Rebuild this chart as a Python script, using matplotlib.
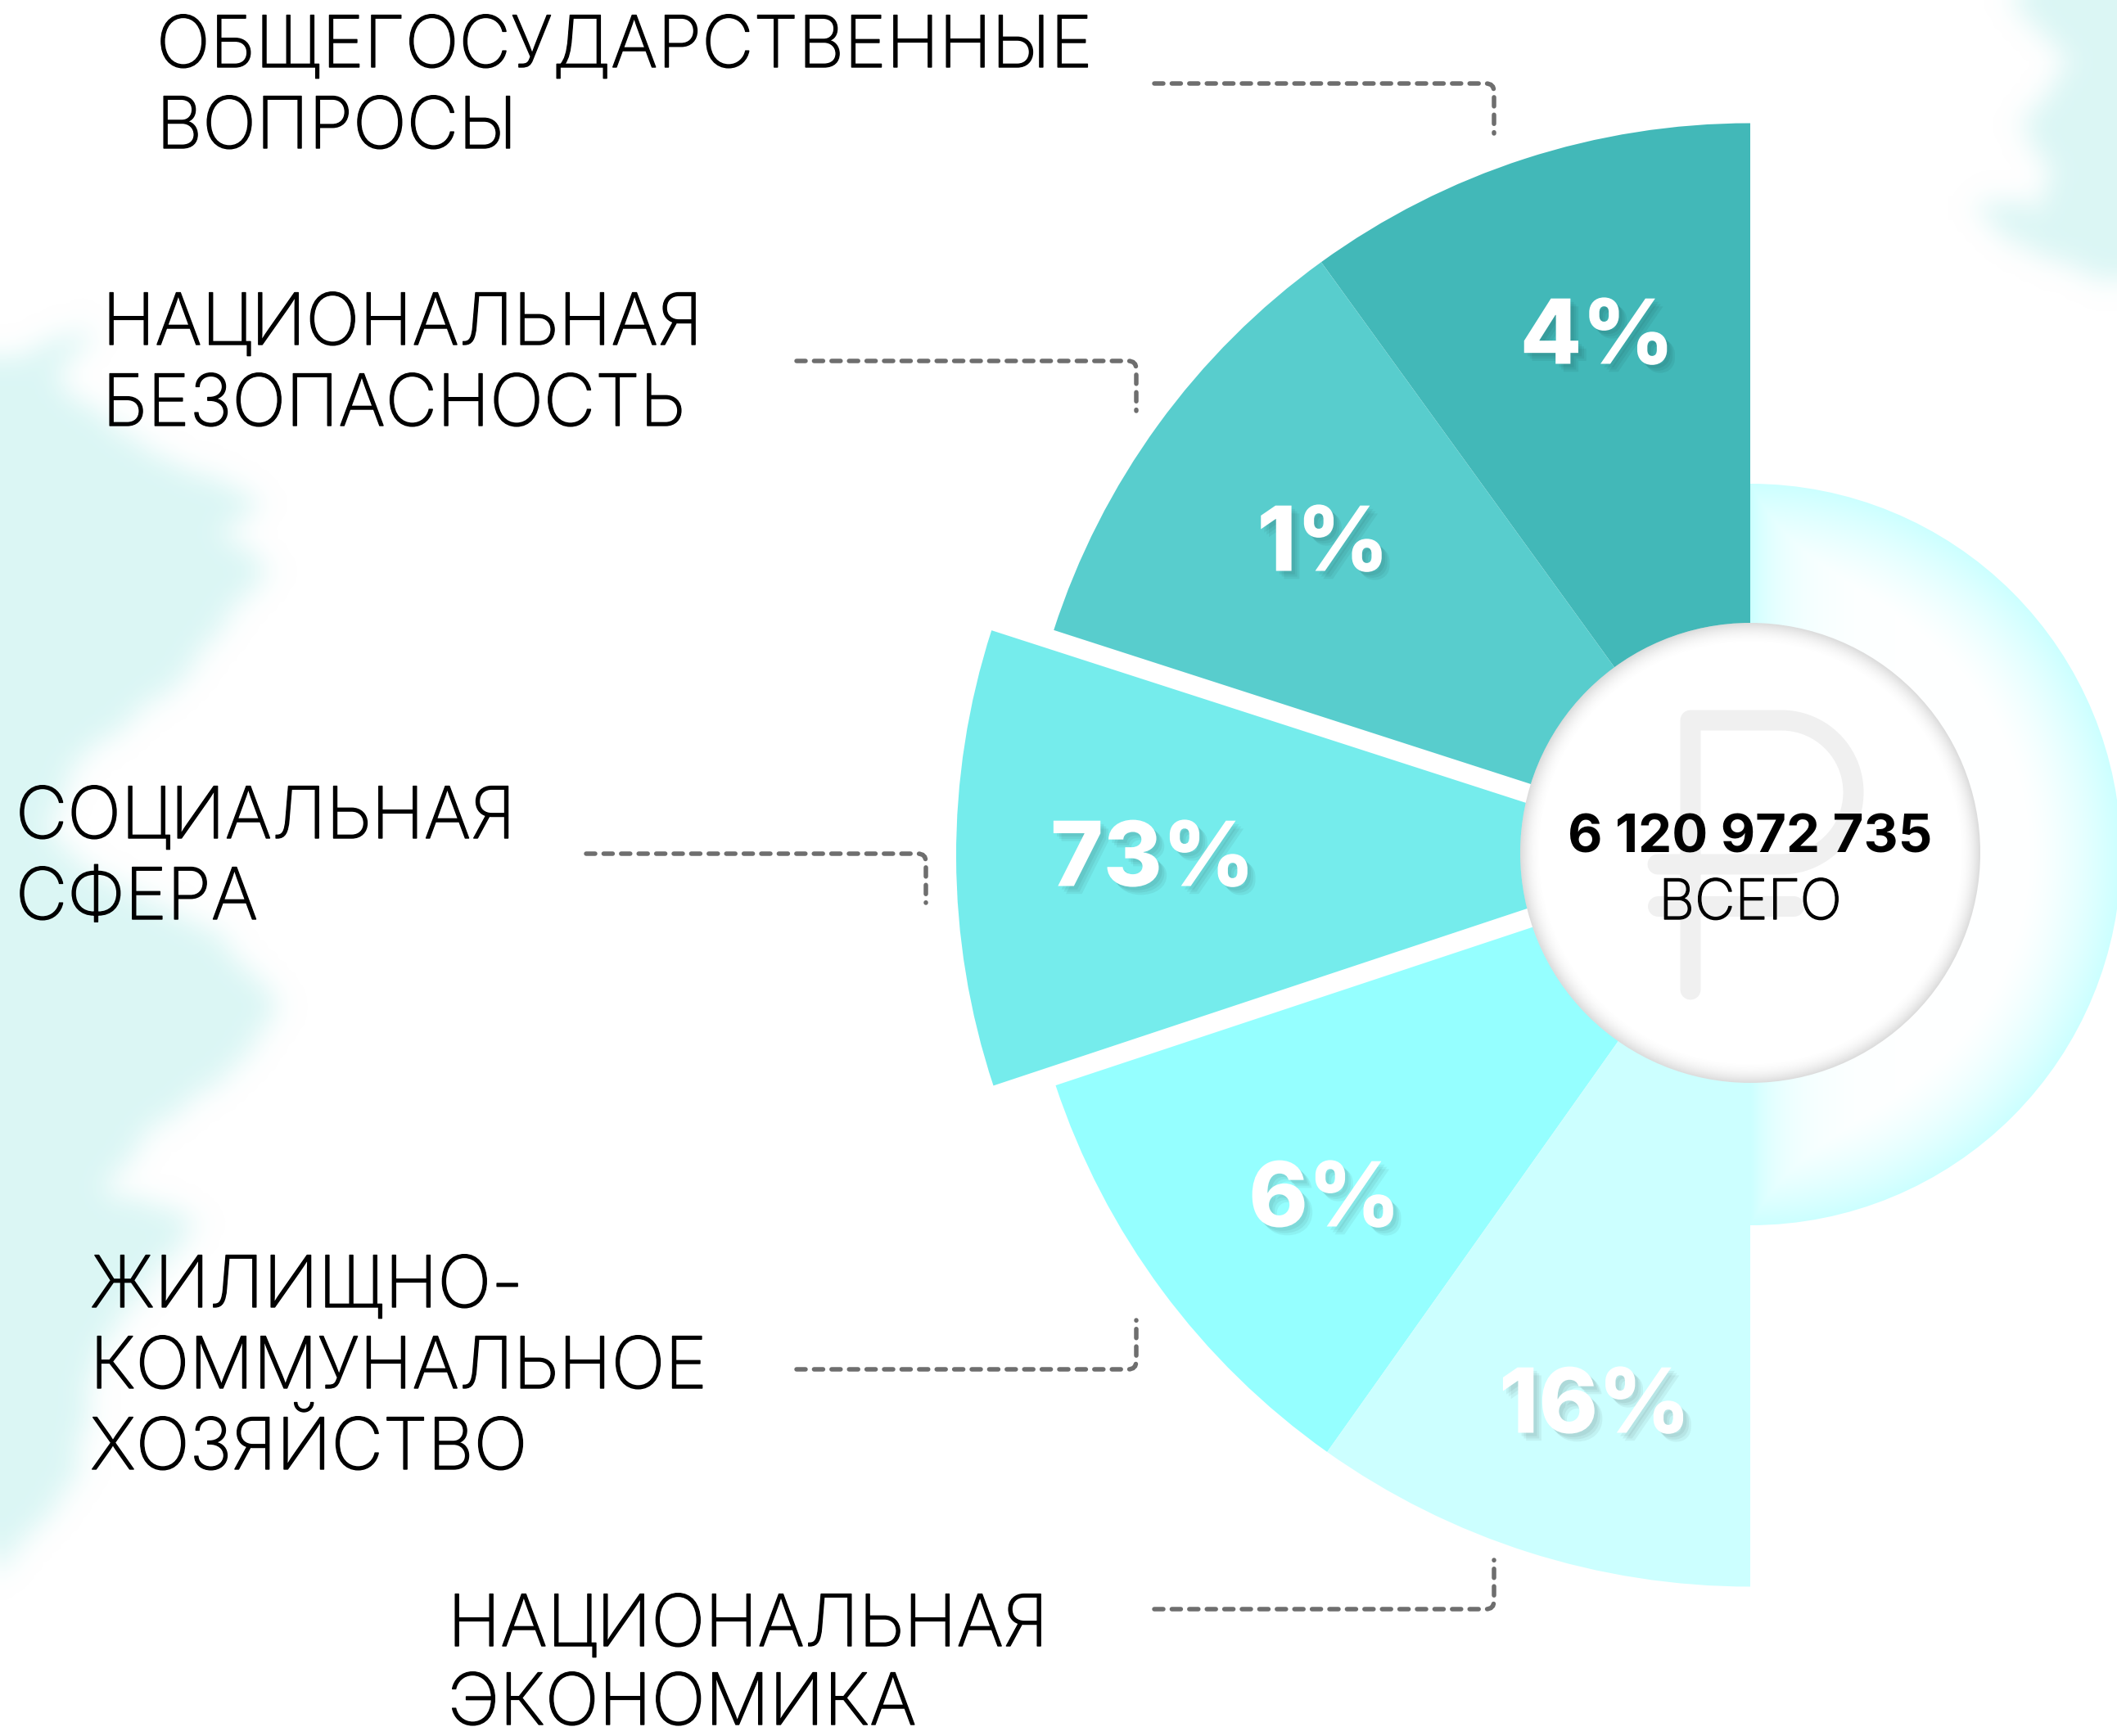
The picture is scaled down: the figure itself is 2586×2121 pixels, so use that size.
import numpy as np
import matplotlib
matplotlib.use('Agg')
import matplotlib.pyplot as plt
import matplotlib.patheffects as pe
from matplotlib.path import Path
from matplotlib.patches import Circle, PathPatch

W, H = 2586, 2121
plt.rcParams['font.family'] = ['Inter', 'DejaVu Sans']
plt.rcParams['lines.scale_dashes'] = False

# Data
categories = [
    ['ОБЩЕГОСУДАРСТВЕННЫЕ', 'ВОПРОСЫ'],
    ['НАЦИОНАЛЬНАЯ', 'БЕЗОПАСНОСТЬ'],
    ['СОЦИАЛЬНАЯ', 'СФЕРА'],
    ['ЖИЛИЩНО-', 'КОММУНАЛЬНОЕ', 'ХОЗЯЙСТВО'],
    ['НАЦИОНАЛЬНАЯ', 'ЭКОНОМИКА'],
]
percent_labels = ['4%', '1%', '73%', '6%', '16%']
sector_share = [0.0997, 0.1006, 0.1007, 0.1009, 0.0981]  # drawn nearly equal, not by percent
sector_colors = ['#42B8B8', '#58CDCD', '#75ECEC', '#95FFFF', '#CCFFFF']
total_value = '6 120 972 735'
total_label = 'ВСЕГО'

# Layout, in reference pixels with y measured from the top
cx, cy = 2138, 1042
pie_cy = 1044.5
R = 894
explode_px = [0, 0, 76, 0, 0]
text_x = [191, 125, 19, 110, 547]
text_y = [[82, 181], [421, 520], [1024, 1123], [1597, 1696, 1795], [2011, 2107]]
leaders = [
    (1410, 1825, 102, 163),
    (973, 1388, 441, 502),
    (716, 1131, 1043, 1103),
    (973, 1388, 1673, 1613),
    (1410, 1825, 1966, 1906),
]
pct_pos = [(1951, 416), (1616, 669), (1408, 1054), (1618, 1470), (1948, 1722)]


def Y(v):
    return H - v


fig = plt.figure(figsize=(W / 100, H / 100), dpi=100)
ax = fig.add_axes([0, 0, 1, 1])


def stain(points, x0, x1, y0, y1, color=(0.82, 0.96, 0.95), strength=0.78):
    # soft blocky brush patch behind the chart
    step = 12
    xs = np.arange(x0, x1, step) + step / 2
    ys = np.arange(y0, y1, step) + step / 2
    gx, gy = np.meshgrid(xs, ys)
    inside = Path(points).contains_points(np.c_[gx.ravel(), gy.ravel()]).reshape(gx.shape)
    a = inside.astype(float)
    for _ in range(4):
        p = np.pad(a, 1, mode='edge')
        a = (p[:-2, 1:-1] + p[2:, 1:-1] + p[1:-1, :-2] + p[1:-1, 2:] + p[1:-1, 1:-1]) / 5
    rgba = np.zeros(a.shape + (4,))
    rgba[..., :3] = color
    rgba[..., 3] = a * strength
    ax.imshow(rgba, extent=(x0, x1, Y(y1), Y(y0)), origin='upper', aspect='auto',
              interpolation='bilinear', zorder=1)


stain([(0, 441), (120, 398), (65, 463), (178, 550), (326, 614), (270, 650), (326, 696),
       (223, 831), (89, 940), (60, 1020), (130, 1080), (268, 1146), (344, 1238),
       (286, 1309), (188, 1385), (125, 1460), (245, 1493), (120, 1656), (89, 1818),
       (0, 1927)], 0, 420, 340, 2000)
stain([(2457, 0), (2500, 43), (2533, 77), (2473, 160), (2510, 213), (2500, 260),
       (2413, 250), (2460, 300), (2586, 353), (2600, 353), (2600, 0)], 2380, 2586, 0, 400)

# Gradient ring behind the sectors
ring_r = 453
ring_cy = 1044
gx, gy = np.meshgrid(np.arange(cx, W) + 0.5, np.arange(ring_cy - ring_r, ring_cy + ring_r) + 0.5)
rr = np.hypot(gx - cx, gy - ring_cy)
t = np.clip((rr - 335) / (ring_r - 335), 0, 1) ** 1.4
t = np.maximum(t, np.exp(-(gx - cx) / 45))
ring = np.ones(gx.shape + (3,))
ring[..., 0] = 1 - 0.2 * t
im = ax.imshow(ring, extent=(cx, W, Y(ring_cy + ring_r), Y(ring_cy - ring_r)), origin='upper',
               aspect='auto', zorder=2)
im.set_clip_path(Circle((cx, Y(ring_cy)), ring_r, transform=ax.transData))

# Sectors
wedges, _ = ax.pie(sector_share, colors=sector_colors, startangle=90, counterclock=True,
                   normalize=False, radius=R, center=(cx, Y(pie_cy)), explode=explode_px,
                   frame=True, wedgeprops={'linewidth': 0})
for w in wedges:
    w.set_zorder(3)

shadow = [pe.SimplePatchShadow(offset=(d, -d), shadow_rgbFace='#000000', alpha=0.05)
          for d in (7, 5, 3)] + [pe.Normal()]
for label, (px, py) in zip(percent_labels, pct_pos):
    ax.text(px, Y(py), label, color='white', fontsize=79, fontweight='heavy', ha='center',
            va='center', zorder=6, path_effects=shadow)

# Centre disc with the inner shading
disc_r = 281
ax.add_patch(Circle((cx, Y(cy)), disc_r, facecolor='white', edgecolor='none', zorder=4))
gx, gy = np.meshgrid(np.arange(cx - disc_r, cx + disc_r) + 0.5,
                     np.arange(cy - disc_r, cy + disc_r) + 0.5)
rr = np.hypot(gx - cx, gy - cy)
shade = np.zeros(gx.shape + (4,))
shade[..., :3] = 0.5
shade[..., 3] = np.clip((rr - 255) / (disc_r - 255), 0, 1) ** 2 * 0.28
im = ax.imshow(shade, extent=(cx - disc_r, cx + disc_r, Y(cy + disc_r), Y(cy - disc_r)),
               origin='upper', aspect='auto', zorder=4.1)
im.set_clip_path(Circle((cx, Y(cy)), disc_r, transform=ax.transData))

# Rouble sign
arc = np.linspace(np.pi / 2, -np.pi / 2, 60)
sign_x = np.r_[2065, 2065, 2176, 2176 + 88 * np.cos(arc), 2025]
sign_y = np.r_[1209, 880, 880, 968 - 88 * np.sin(arc), 1056]
ax.plot(sign_x, Y(sign_y), color='#F0F0F0', lw=25 * 0.72, solid_capstyle='round',
        solid_joinstyle='round', zorder=4.5)
ax.plot([2025, 2191], [Y(1107), Y(1107)], color='#F0F0F0', lw=25 * 0.72,
        solid_capstyle='round', zorder=4.5)

thicker = [pe.Stroke(linewidth=1.0, foreground='black'), pe.Normal()]
ax.text(cx, Y(1042), total_value, color='black', fontsize=47, fontweight='bold', ha='center',
        va='baseline', zorder=6)
ax.text(cx, Y(1123), total_label, color='black', fontsize=49, fontweight='light', ha='center',
        va='baseline', zorder=6, path_effects=thicker)

# Category captions
for lines, x, ys in zip(categories, text_x, text_y):
    for line, y in zip(lines, ys):
        ax.text(x, Y(y), line, color='black', fontsize=62.8, fontweight='light', ha='left',
                va='baseline', zorder=6, path_effects=thicker)

# Dashed leader lines with a rounded corner
for x0, x1, y0, y1 in leaders:
    s = 1 if y1 > y0 else -1
    verts = [(x0, Y(y0)), (x1 - 10, Y(y0)), (x1, Y(y0)), (x1, Y(y0 + s * 10)), (x1, Y(y1))]
    codes = [Path.MOVETO, Path.LINETO, Path.CURVE3, Path.CURVE3, Path.LINETO]
    ax.add_patch(PathPatch(Path(verts, codes), fill=False, edgecolor='#6E6E6E', lw=5.5 * 0.72,
                           linestyle=(0, (11 * 0.72, 10.4 * 0.72)), capstyle='round', zorder=5))

ax.set_xlim(0, W)
ax.set_ylim(0, H)
ax.set_aspect('auto')
ax.axis('off')
fig.savefig('out.png', dpi=100)
